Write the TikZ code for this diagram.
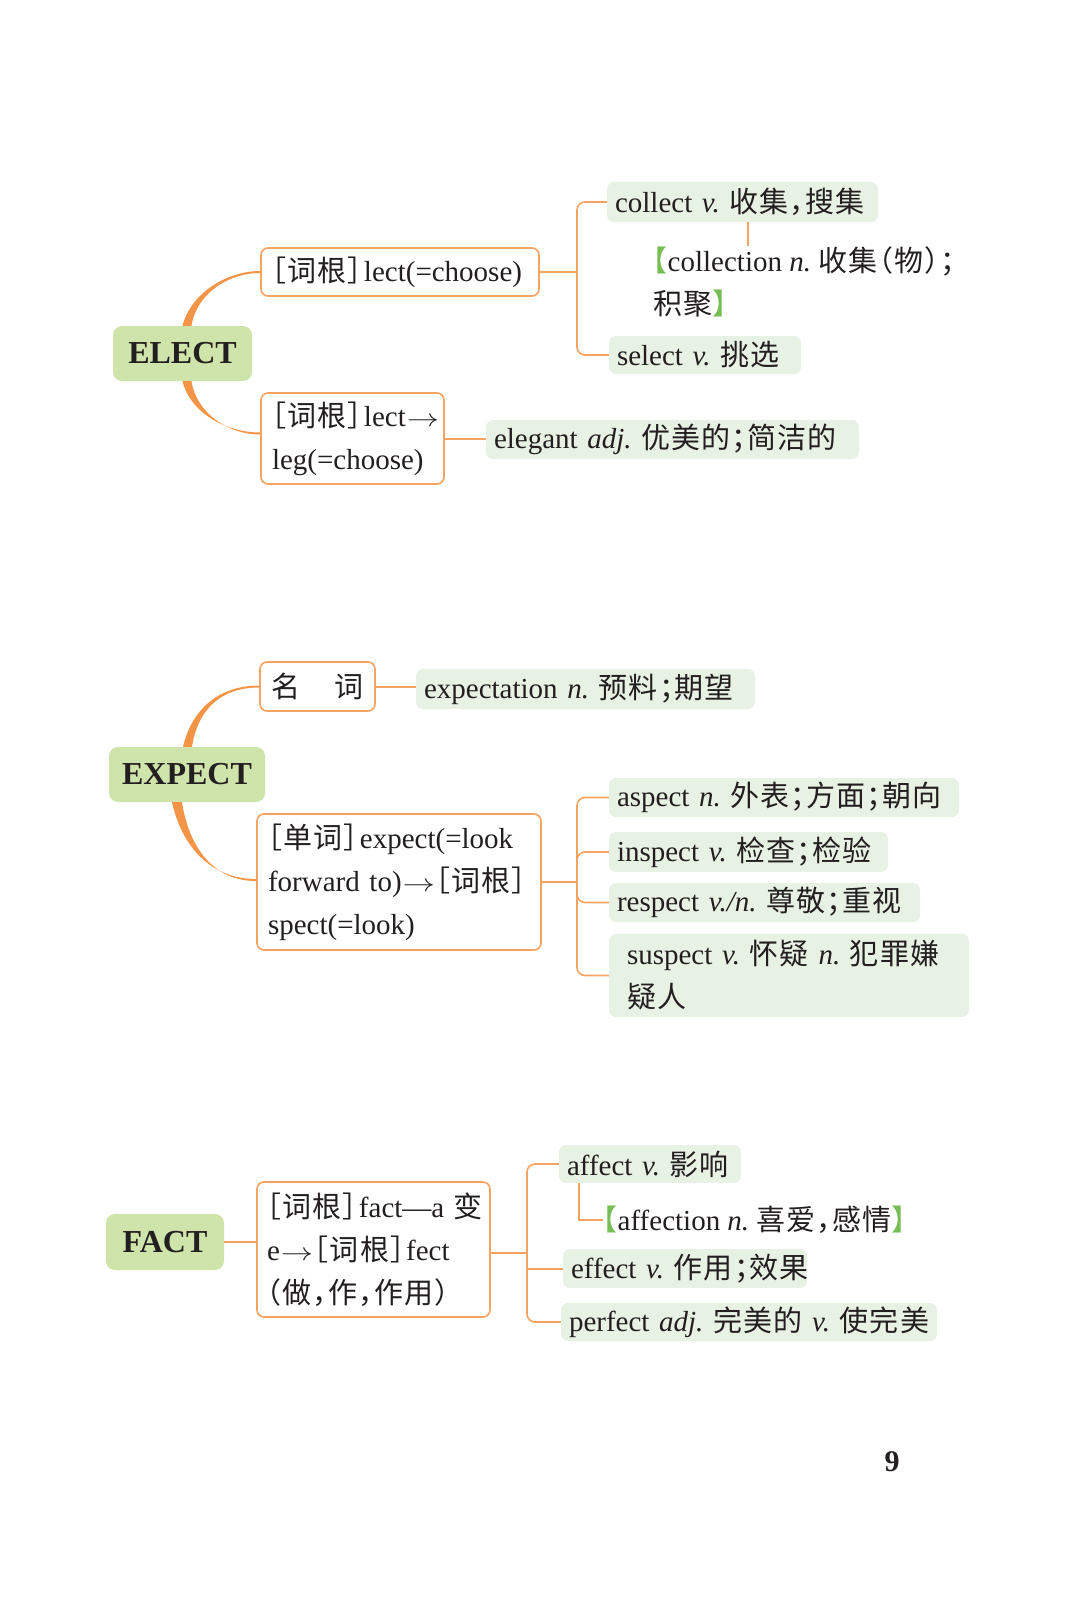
\documentclass[tikz,border=0pt]{standalone}
\usepackage{fontspec}
\usepackage{graphicx}
\setmainfont{Liberation Serif}
\newfontfamily\cjk[RawFeature=+halt, LetterSpace=4]{Noto Sans CJK SC}
\usepackage{tikz}
\usepackage{xcolor}
\definecolor{lineorange}{RGB}{246,163,98}
\definecolor{branchorange}{RGB}{244,148,70}
\definecolor{rootgreen}{RGB}{206,228,171}
\definecolor{leafgreen}{RGB}{231,241,228}
\definecolor{brgreen}{RGB}{118,189,84}
\definecolor{inkgray}{RGB}{35,31,32}
\newcommand\zh[1]{{\cjk #1}}
\newcommand\pos[1]{\textit{#1}}
\newcommand\gbl{\textcolor{brgreen}{\zh{【}}}
\newcommand\gbr{\textcolor{brgreen}{\zh{】}}}
\newcommand\ciroot{\zh{［词根］}\kern1.5pt}
\newcommand\toarrow{\kern1pt\scalebox{1.3}[1]{$\rightarrow$}\kern1pt}
\newcommand\leaffont{\fontsize{29}{43}\selectfont}
\newcommand\rootfont{\fontsize{32}{38}\selectfont\bfseries}
\tikzstyle{rootbox} = [rectangle, rounded corners=9pt, fill=rootgreen, text=inkgray, font=\rootfont, inner sep=0pt]
\tikzstyle{rulebox} = [rectangle, rounded corners=7pt, draw=lineorange, line width=1.6pt, fill=white, text=inkgray, font=\leaffont, align=left, inner xsep=11pt, inner ysep=0pt]
\tikzstyle{wordbox} = [rectangle, rounded corners=7pt, fill=leafgreen, text=inkgray, font=\leaffont, align=left, inner xsep=8pt, inner ysep=0pt]
\tikzstyle{note} = [text=inkgray, font=\leaffont, align=left, inner sep=0pt]
\tikzstyle{link} = [draw=lineorange, line width=2pt]
\tikzstyle{fork} = [draw=lineorange, line width=1.6pt, rounded corners=8pt]
\tikzstyle{branch} = [fill=branchorange]

\begin{document}
\begin{tikzpicture}[x=1pt,y=-1pt]
      \useasboundingbox (0,0) rectangle (1080,1598);

      % ELECT
      \node (elect) [rootbox, minimum width=139, minimum height=55] at (182.5,353.5) {ELECT};
      \node (lectbox) [rulebox, text width=256, minimum height=48] at (400,272) {\ciroot lect(=choose)};
      \node (legbox) [rulebox, text width=161, minimum height=91] at (352.5,438.5) {\ciroot lect\toarrow\\leg(=choose)};
      \node (collect) [wordbox, text width=255, minimum height=40] at (742.5,202) {collect~\pos{v.}~\zh{收集，搜集}};
      \node (collection) [note, anchor=west] at (653,281.5) {\gbl collection~\pos{n.}~\zh{收集（物）；}\\\zh{积聚}\gbr};
      \node (select) [wordbox, text width=176, minimum height=38] at (705,355) {select~\pos{v.}~\zh{挑选}};
      \node (elegant) [wordbox, text width=357, minimum height=39] at (672.5,439.5) {elegant~\pos{adj.}~\zh{优美的；简洁的}};
      \coordinate (electfork) at (577,272);
      \fill [branch] (elect.north) .. controls +(8,-32) and +(-34,0) .. ([yshift=1pt]lectbox.west) -- ([yshift=-1pt]lectbox.west) .. controls +(-32,0) and +(5,-32) .. ([xshift=9pt]elect.north) -- cycle;
      \fill [branch] (elect.south) .. controls +(8,32) and +(-34,0) .. ([yshift=6pt]legbox.west) -- ([yshift=4pt]legbox.west) .. controls +(-32,0) and +(5,32) .. ([xshift=9pt]elect.south) -- cycle;
      \draw [link] (lectbox.east) -- (electfork);
      \draw [fork] (collect.west) -| (electfork) |- (select.west);
      \draw [fork] ([xshift=5.5pt]collect.south) -- ([xshift=5.5pt]collect.south |- collection.north);
      \draw [link] (legbox.east) -- (legbox.east -| elegant.west);

      % EXPECT
      \node (expect) [rootbox, minimum width=156, minimum height=55] at (187,774.5) {EXPECT};
      \node (nounbox) [rulebox, align=center, text width=93, minimum height=49] at (317.5,686.5) {\zh{名}\hspace{1.2em}\zh{词}};
      \node (expectation) [wordbox, text width=323, minimum height=40] at (585.5,689) {expectation~\pos{n.}~\zh{预料；期望}};
      \node (spectbox) [rulebox, text width=262, minimum height=136] at (399,882) {\zh{［单词］}\kern1.5pt expect(=look\\\mbox{forward~to)\toarrow\zh{［词根］}}\\spect(=look)};
      \node (aspect) [wordbox, text width=334, minimum height=39] at (784,797.5) {aspect~\pos{n.}~\zh{外表；方面；朝向}};
      \node (inspect) [wordbox, text width=263, minimum height=40] at (748.5,852) {inspect~\pos{v.}~\zh{检查；检验}};
      \node (respect) [wordbox, text width=295, minimum height=39] at (764.5,902.5) {respect~\pos{v./n.}~\zh{尊敬；重视}};
      \node (suspect) [wordbox, inner xsep=18pt, text width=324, minimum height=83] at (789,975.5) {suspect~\pos{v.}~\zh{怀疑}~\pos{n.}~\zh{犯罪嫌}\\\zh{疑人}};
      \coordinate (spectfork) at (577,882);
      \fill [branch] ([xshift=-4pt]expect.north) .. controls +(9,-38) and +(-40,0) .. ([yshift=1pt]nounbox.west) -- ([yshift=-1pt]nounbox.west) .. controls +(-38,0) and +(6,-38) .. ([xshift=5pt]expect.north) -- cycle;
      \fill [branch] ([xshift=-15pt]expect.south) .. controls +(10,45) and +(-45,0) .. ([yshift=3pt]spectbox.west) -- ([yshift=1pt]spectbox.west) .. controls +(-43,0) and +(7,45) .. ([xshift=-5pt]expect.south) -- cycle;
      \draw [link] (nounbox.east) -- (nounbox.east -| expectation.west);
      \draw [link] (spectbox.east) -- (spectfork);
      \draw [fork] (aspect.west) -| (spectfork) |- (suspect.west);
      \draw [fork] (inspect.west) -| (spectfork) |- (respect.west);

      % FACT
      \node (fact) [rootbox, minimum width=118, minimum height=56] at (165,1242) {FACT};
      \node (fectbox) [rulebox, inner xsep=10pt, text width=213, minimum height=135] at (373.5,1249.5) {\mbox{\ciroot fact—a~\zh{变}}\\\mbox{e\toarrow\ciroot fect}\\\zh{（做，作，作用）}};
      \node (affect) [wordbox, text width=166, minimum height=38] at (650,1164) {affect~\pos{v.}~\zh{影响}};
      \node (affection) [note, anchor=west] at (603,1220) {\gbl affection~\pos{n.}~\zh{喜爱，感情}\gbr};
      \node (effect) [wordbox, text width=228, minimum height=39] at (685,1268.5) {effect~\pos{v.}~\zh{作用；效果}};
      \node (perfect) [wordbox, text width=360, minimum height=38] at (749,1322) {perfect~\pos{adj.}~\zh{完美的}~\pos{v.}~\zh{使完美}};
      \coordinate (fectfork) at (527,1253);
      \draw [link] (fact.east) -- (fact.east -| fectbox.west);
      \draw [link] (fectbox.east |- fectfork) -- (fectfork);
      \draw [fork] (affect.west) -| (fectfork) |- (perfect.west);
      \draw [link] (fectfork |- effect.west) -- (effect.west);
      \draw [fork, rounded corners=0pt] ([xshift=-71pt]affect.south) |- (affection.west);

      \node (pagenum) [text=inkgray, font=\fontsize{30}{30}\selectfont\bfseries] at (892,1462) {9};
    \end{tikzpicture}
\end{document}
